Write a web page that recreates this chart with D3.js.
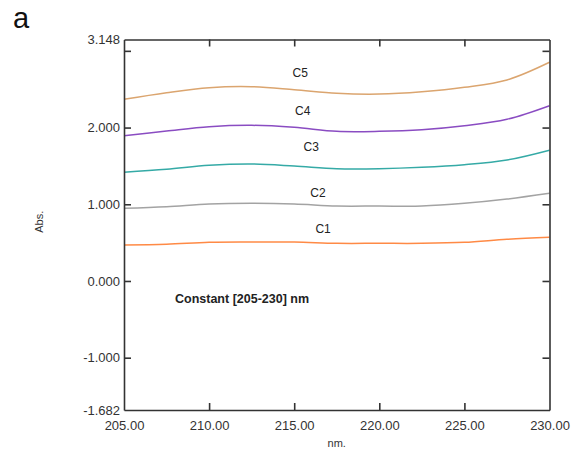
<!DOCTYPE html>
<html>
<head>
<meta charset="utf-8">
<script src="https://cdn.jsdelivr.net/npm/d3@7"></script>
<style>
  html, body { margin: 0; padding: 0; background: #fff; }
  svg { display: block; font-family: "Liberation Sans", Arial, sans-serif; }
</style>
</head>
<body>
<svg id="chart" width="574" height="452"></svg>
<script>
// Wavelength grid (nm)
const wavelengths = [205, 207.5, 210, 212.5, 215, 217.5, 220, 222.5, 225, 227.5, 230];

// Absorbance series
const seriesNames = ["C1", "C2", "C3", "C4", "C5"];
const c1 = [0.469, 0.478, 0.504, 0.508, 0.508, 0.491, 0.491, 0.491, 0.504, 0.543, 0.569];
const c2 = [0.947, 0.968, 1.003, 1.012, 1.003, 0.977, 0.977, 0.977, 1.012, 1.068, 1.143];
const c3 = [1.417, 1.456, 1.508, 1.525, 1.499, 1.464, 1.464, 1.482, 1.516, 1.577, 1.705];
const c4 = [1.894, 1.955, 2.011, 2.029, 2.003, 1.951, 1.951, 1.972, 2.024, 2.108, 2.285];
const c5 = [2.368, 2.454, 2.520, 2.533, 2.494, 2.447, 2.437, 2.467, 2.525, 2.620, 2.851];
const seriesValues = [c1, c2, c3, c4, c5];
const seriesColors = ["#ff8a45", "#a3a3a3", "#35aaa6", "#8a4cc2", "#dba56f"];

// Curve label anchors (nm, Abs.)
const labelNm = [216.7, 216.4, 216.0, 215.5, 215.35];
const labelAbs = [0.678, 1.147, 1.746, 2.216, 2.711];

// Axis ticks
const xTicks = [205, 210, 215, 220, 225, 230];
const xTickLabels = ["205.00", "210.00", "215.00", "220.00", "225.00", "230.00"];
const yDomain = [-1.682, 3.148];
const yTicks = [3.148, 3, 2, 1, 0, -1, -1.682];
const yTickLabels = ["3.148", "", "2.000", "1.000", "0.000", "-1.000", "-1.682"];

const svg = d3.select("#chart");
const margin = { left: 124, top: 39.5, right: 574 - 549.5, bottom: 452 - 410 };
const W = 574 - margin.left - margin.right;
const H = 452 - margin.top - margin.bottom;

const x = d3.scaleLinear().domain([205, 230]).range([0, W]);
const y = d3.scaleLinear().domain(yDomain).range([H, 0]);

const g = svg.append("g").attr("transform", `translate(${margin.left},${margin.top})`);

// Panel letter
svg.append("text")
  .attr("x", 13).attr("y", 28)
  .attr("font-size", 29)
  .attr("fill", "#111")
  .text("a");

// Curves
const line = d3.line()
  .x((d, i) => x(wavelengths[i]))
  .y(d => y(d))
  .curve(d3.curveCatmullRom.alpha(0.5));

g.selectAll("path.curve")
  .data(seriesValues)
  .join("path")
  .attr("class", "curve")
  .attr("fill", "none")
  .attr("stroke", (d, i) => seriesColors[i])
  .attr("stroke-width", 1.5)
  .attr("d", line);

// Curve labels
g.selectAll("text.clabel")
  .data(seriesNames)
  .join("text")
  .attr("class", "clabel")
  .attr("x", (d, i) => x(labelNm[i]))
  .attr("y", (d, i) => y(labelAbs[i]))
  .attr("dy", "0.35em")
  .attr("text-anchor", "middle")
  .attr("font-size", 12)
  .attr("fill", "#222")
  .text(d => d);

// Axes
const axisColor = "#333";
const tickLen = 7;

const xBottom = g.append("g").attr("transform", `translate(0,${H})`)
  .call(d3.axisBottom(x).tickValues(xTicks).tickSizeInner(-tickLen).tickSizeOuter(0).tickPadding(11)
    .tickFormat((d, i) => xTickLabels[i]));
xBottom.selectAll(".tick line").filter(d => d === 205 || d === 230).remove();

const xTop = g.append("g")
  .call(d3.axisTop(x).tickValues(xTicks.slice(1, -1)).tickSizeInner(-tickLen).tickSizeOuter(0).tickFormat(""));

const yLeft = g.append("g")
  .call(d3.axisLeft(y).tickValues(yTicks).tickSizeInner(-tickLen).tickSizeOuter(0).tickPadding(4)
    .tickFormat((d, i) => yTickLabels[i]));
yLeft.selectAll(".tick line").filter(d => d === 3.148 || d === -1.682).remove();

const yRight = g.append("g").attr("transform", `translate(${W},0)`)
  .call(d3.axisRight(y).tickValues(yTicks.slice(1, -1)).tickSizeInner(-tickLen).tickSizeOuter(0).tickFormat(""));

[xBottom, xTop, yLeft, yRight].forEach(a => {
  a.select(".domain").attr("stroke", axisColor).attr("stroke-width", 1.6);
  a.selectAll(".tick line").attr("stroke", axisColor).attr("stroke-width", 1.6);
  a.selectAll(".tick text")
    .attr("font-size", 13)
    .attr("fill", "#333")
    .attr("font-family", "'Liberation Sans', Arial, sans-serif");
});

// Axis titles
svg.append("text")
  .attr("x", margin.left + W / 2).attr("y", 447)
  .attr("text-anchor", "middle")
  .attr("font-size", 11)
  .attr("fill", "#333")
  .text("nm.");

svg.append("text")
  .attr("transform", `translate(43,${margin.top + H / 2 - 3}) rotate(-90)`)
  .attr("text-anchor", "middle")
  .attr("font-size", 11)
  .attr("fill", "#333")
  .text("Abs.");

// Annotation
svg.append("text")
  .attr("x", 175).attr("y", 303)
  .attr("font-size", 12.5)
  .attr("font-weight", "bold")
  .attr("fill", "#222")
  .text("Constant [205-230] nm");
</script>
</body>
</html>
